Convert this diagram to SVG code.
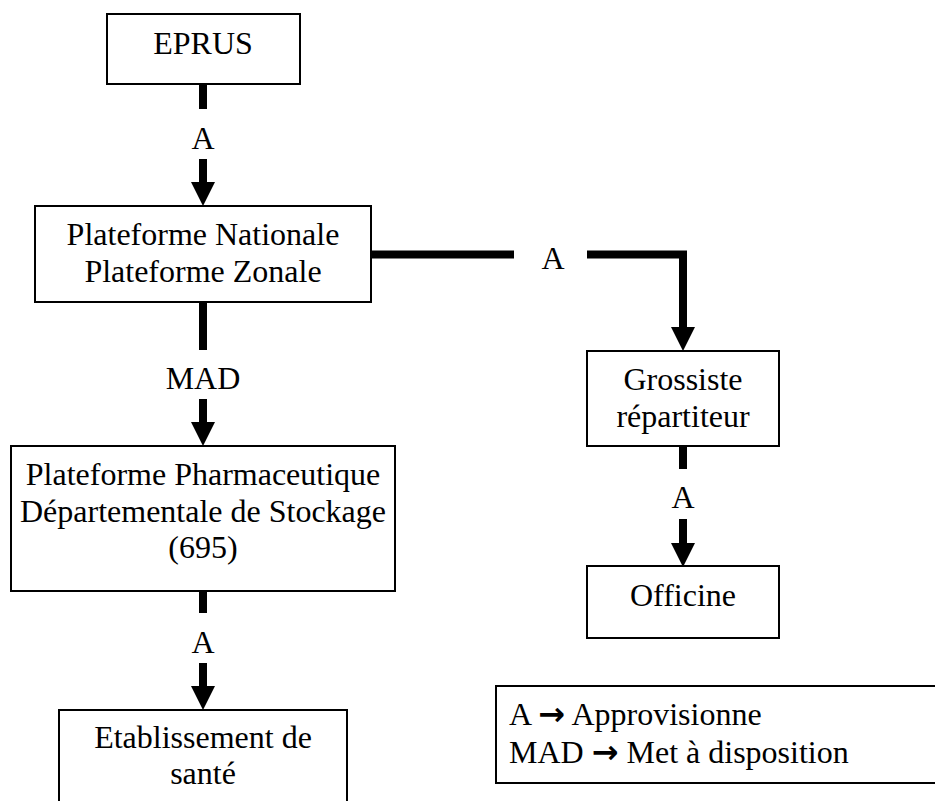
<svg xmlns="http://www.w3.org/2000/svg" width="935" height="801" viewBox="0 0 935 801">
<style>
  .box { fill: #ffffff; stroke: #000000; stroke-width: 2; }
  .t { font-family: "Liberation Serif", "Times New Roman", serif; font-size: 32px; fill: #000000; text-anchor: middle; }
  .tl { font-family: "Liberation Serif", "Times New Roman", serif; font-size: 32px; fill: #000000; }
  .arr { font-family: "DejaVu Sans", sans-serif; font-weight: bold; }
  .bar { fill: none; stroke: #000000; stroke-width: 8; stroke-linecap: butt; stroke-linejoin: miter; }
</style>
<defs>
  <marker id="head" markerUnits="userSpaceOnUse" markerWidth="24" markerHeight="24" viewBox="0 0 24 24" refX="0" refY="12" orient="auto">
    <path d="M0,0 L24,12 L0,24 z" fill="#000000"/>
  </marker>
</defs>
<rect width="935" height="801" fill="#ffffff"/>

<g id="connectors">
  <path class="bar" d="M203,84 L203,109"/>
  <path class="bar" d="M203,159 L203,182" marker-end="url(#head)"/>
  <path class="bar" d="M203,302 L203,350"/>
  <path class="bar" d="M203,399 L203,422" marker-end="url(#head)"/>
  <path class="bar" d="M203,591 L203,613"/>
  <path class="bar" d="M203,663 L203,686" marker-end="url(#head)"/>
  <path class="bar" d="M371,254.5 L514,254.5"/>
  <path class="bar" d="M587,254.5 L683,254.5 L683,327" marker-end="url(#head)"/>
  <path class="bar" d="M683,446 L683,469"/>
  <path class="bar" d="M683,519 L683,543" marker-end="url(#head)"/>
  <text class="t" x="203" y="149">A</text>
  <text class="t" x="203" y="389">MAD</text>
  <text class="t" x="203" y="653">A</text>
  <text class="t" x="553" y="269">A</text>
  <text class="t" x="683" y="508">A</text>
</g>

<g id="eprus">
  <rect class="box" x="107" y="14" width="193" height="70"/>
  <text class="t" x="203" y="54">EPRUS</text>
</g>

<g id="plateforme-nationale">
  <rect class="box" x="35" y="206" width="336" height="96"/>
  <text class="t" x="203" y="245">Plateforme Nationale</text>
  <text class="t" x="203" y="282">Plateforme Zonale</text>
</g>

<g id="ppds">
  <rect class="box" x="11" y="446" width="384" height="145"/>
  <text class="t" x="203" y="485">Plateforme Pharmaceutique</text>
  <text class="t" x="203" y="522">Départementale de Stockage</text>
  <text class="t" x="203" y="558">(695)</text>
</g>

<g id="etablissement">
  <rect class="box" x="59" y="710" width="288" height="120"/>
  <text class="t" x="203" y="748">Etablissement de</text>
  <text class="t" x="203" y="784">santé</text>
</g>

<g id="grossiste">
  <rect class="box" x="587" y="351" width="192" height="95"/>
  <text class="t" x="683" y="390">Grossiste</text>
  <text class="t" x="683" y="427">répartiteur</text>
</g>

<g id="officine">
  <rect class="box" x="587" y="566" width="192" height="72"/>
  <text class="t" x="683" y="606">Officine</text>
</g>

<g id="legend">
  <rect class="box" x="496" y="686" width="470" height="97"/>
  <text class="tl" x="509" y="725">A <tspan class="arr">→</tspan> Approvisionne</text>
  <text class="tl" x="509" y="763">MAD <tspan class="arr">→</tspan> Met à disposition</text>
</g>
</svg>
